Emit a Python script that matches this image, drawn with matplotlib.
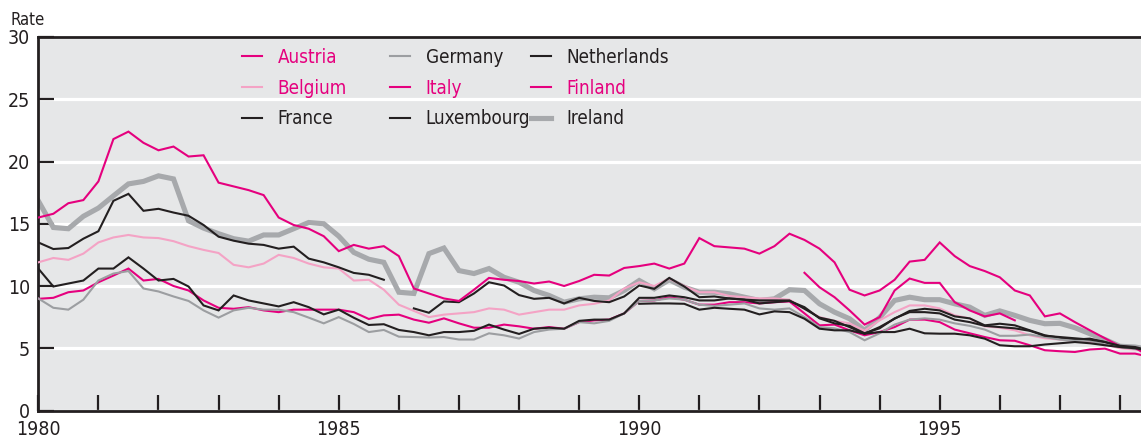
import numpy as np
import matplotlib
matplotlib.use("Agg")
import matplotlib.pyplot as plt
from matplotlib.ticker import FixedLocator

plt.rcParams['font.family'] = ['Liberation Sans Narrow', 'DejaVu Sans']
plt.rcParams['font.stretch'] = 'condensed'

nan = np.nan

# quarterly observations, 1980Q1 .. 1998Q3
quarters = 1980 + 0.25 * np.arange(75)

austria = [8.97, 9.05, 9.5, 9.64, 10.3, 10.84, 11.4, 10.44, 10.57, 10.0,
           9.64, 8.84, 8.25, 8.17, 8.3, 8.04, 7.9, 8.1, 8.1, 8.1,
           8.1, 7.9, 7.35, 7.64, 7.7, 7.3, 7.05, 7.4, 7.0, 6.65,
           6.65, 6.9, 6.76, 6.57, 6.7, 6.57, 7.1, 7.24, 7.3, 7.8,
           8.8, 8.84, 9.1, 8.9, 8.5, 8.5, 8.7, 8.7, 8.6, 8.7,
           8.76, 7.8, 6.84, 6.9, 6.44, 6.04, 6.3, 6.7, 7.3, 7.3,
           7.1, 6.5, 6.2, 5.9, 5.64, 5.6, 5.24, 4.84, 4.76, 4.7,
           4.9, 4.97, 4.57, 4.57, 4.3]

belgium = [11.9, 12.25, 12.1, 12.6, 13.5, 13.9, 14.1, 13.9, 13.85, 13.6,
           13.2, 12.9, 12.65, 11.7, 11.5, 11.8, 12.5, 12.25, 11.8, 11.5,
           11.4, 10.44, 10.5, 9.7, 8.5, 8.0, 7.5, 7.7, 7.8, 7.9,
           8.2, 8.1, 7.7, 7.9, 8.1, 8.1, 8.44, 8.57, 8.84, 9.8,
           10.3, 10.0, 10.6, 10.0, 9.5, 9.5, 9.2, 9.1, 9.0, 9.0,
           8.9, 8.2, 7.5, 7.2, 7.0, 6.4, 7.24, 7.9, 8.44, 8.44,
           8.2, 7.64, 7.4, 6.76, 6.65, 6.44, 6.04, 5.8, 5.7, 5.6,
           5.5, 5.3, 5.0, 4.9, 4.7]

france = [13.5, 12.97, 13.05, 13.8, 14.4, 16.84, 17.4, 16.04, 16.2, 15.9,
          15.64, 14.9, 13.96, 13.64, 13.4, 13.3, 13.0, 13.16, 12.2, 11.9,
          11.5, 11.05, 10.9, 10.5, nan, 8.2, 7.85, 8.76, 8.7, 9.4,
          10.3, 10.04, 9.27, 8.97, 9.05, 8.6, 9.05, 8.8, 8.7, 9.16,
          10.04, 9.77, 10.65, 9.96, 9.1, 9.16, 9.0, 8.9, 8.84, 8.84,
          8.84, 8.17, 7.46, 7.2, 6.7, 6.17, 6.7, 7.37, 8.0, 8.17,
          8.04, 7.56, 7.4, 6.84, 6.97, 6.84, 6.44, 6.04, 5.84, 5.7,
          5.77, 5.5, 5.1, 5.0, 4.8]

germany = [9.0, 8.25, 8.1, 8.9, 10.44, 11.0, 11.2, 9.8, 9.56, 9.16,
           8.8, 8.04, 7.46, 8.04, 8.25, 8.1, 8.1, 7.9, 7.46, 7.0,
           7.5, 6.95, 6.3, 6.47, 5.93, 5.9, 5.86, 5.9, 5.7, 5.7,
           6.2, 6.04, 5.78, 6.3, 6.5, 6.57, 7.1, 7.0, 7.2, 7.8,
           8.8, 8.84, 9.0, 8.9, 8.5, 8.4, 8.5, 8.6, 8.2, 8.1,
           8.2, 7.5, 6.7, 6.6, 6.3, 5.64, 6.2, 6.9, 7.3, 7.4,
           7.3, 7.0, 6.8, 6.5, 6.0, 6.0, 6.1, 5.9, 5.7, 5.6,
           5.6, 5.3, 5.1, 4.95, 4.7]

italy = [15.5, 15.8, 16.65, 16.9, 18.4, 21.8, 22.4, 21.5, 20.9, 21.2,
         20.4, 20.5, 18.3, 18.0, 17.7, 17.3, 15.5, 14.9, 14.6, 14.0,
         12.8, 13.3, 13.0, 13.2, 12.4, 9.8, 9.4, 9.0, 8.8, 9.7,
         10.65, 10.5, 10.4, 10.2, 10.36, 10.0, 10.4, 10.9, 10.84, 11.45,
         11.6, 11.8, 11.4, 11.8, 13.85, 13.2, 13.1, 13.0, 12.6, 13.2,
         14.2, 13.7, 13.0, 11.9, 9.7, 9.24, 9.64, 10.5, 11.96, 12.1,
         13.5, 12.4, 11.6, 11.2, 10.7, 9.64, 9.24, 7.56, 7.8, 7.1,
         6.44, 5.8, 5.16, 5.05, 4.3]

luxembourg = [nan] * 40 + [
    8.57, 8.6, 8.6, 8.57, 8.1, 8.25, 8.17, 8.1, 7.72, 7.96,
    7.9, 7.37, 6.57, 6.44, 6.44, 6.17, 6.3, 6.3, 6.57, 6.2,
    6.17, 6.17, 6.04, 5.77, 5.24, 5.16, 5.16, 5.3, 5.4, 5.5,
    5.4, 5.24, 5.1, 5.0, 4.8]

netherlands = [11.4, 9.96, 10.2, 10.44, 11.4, 11.4, 12.3, 11.4, 10.44, 10.57,
               9.96, 8.44, 8.04, 9.24, 8.84, 8.6, 8.36, 8.7, 8.3, 7.72,
               8.1, 7.45, 6.87, 6.93, 6.47, 6.3, 6.04, 6.3, 6.3, 6.4,
               6.9, 6.5, 6.15, 6.57, 6.65, 6.57, 7.2, 7.3, 7.3, 7.8,
               9.05, 9.05, 9.24, 9.1, 8.84, 8.84, 9.0, 8.9, 8.6, 8.7,
               8.8, 8.3, 7.4, 7.0, 6.8, 6.2, 6.6, 7.4, 7.9, 7.9,
               7.8, 7.3, 7.1, 6.8, 6.7, 6.6, 6.4, 6.0, 5.9, 5.8,
               5.7, 5.5, 5.2, 5.1, 4.8]

finland = [nan] * 51 + [11.06, 9.9, 9.1, 8.04, 6.9, 7.5, 9.64, 10.6, 10.25, 10.25,
                        8.7, 8.04, 7.56, 7.8, 7.24] + [nan] * 9

ireland = [16.84, 14.7, 14.6, 15.6, 16.26, 17.24, 18.2, 18.4, 18.85, 18.6,
           15.24, 14.65, 14.2, 13.8, 13.6, 14.1, 14.1, 14.6, 15.1, 15.0,
           14.0, 12.7, 12.15, 11.9, 9.5, 9.4, 12.6, 13.05, 11.24, 11.0,
           11.4, 10.7, 10.3, 9.64, 9.24, 8.7, 8.97, 9.1, 9.05, 9.64,
           10.44, 9.77, 10.5, 9.9, 9.5, 9.5, 9.37, 9.1, 8.84, 8.97,
           9.7, 9.64, 8.57, 7.9, 7.37, 6.44, 7.46, 8.84, 9.1, 8.9,
           8.9, 8.57, 8.3, 7.64, 8.0, 7.64, 7.24, 6.97, 7.0, 6.65,
           6.17, 5.7, 5.16, 5.1, 4.9]

MAGENTA = '#e5007e'
PINK = '#f4a3c5'
GREY = '#9c9ea1'
IRL_GREY = '#a7a9ac'
BLACK = '#231f20'

# name, data, colour, width, label colour
series = [
    ('Austria', austria, MAGENTA, 1.5, MAGENTA),
    ('Belgium', belgium, PINK, 1.5, MAGENTA),
    ('France', france, BLACK, 1.5, BLACK),
    ('Germany', germany, GREY, 1.5, BLACK),
    ('Italy', italy, MAGENTA, 1.5, MAGENTA),
    ('Luxembourg', luxembourg, BLACK, 1.5, BLACK),
    ('Netherlands', netherlands, BLACK, 1.5, BLACK),
    ('Finland', finland, MAGENTA, 1.5, MAGENTA),
    ('Ireland', ireland, IRL_GREY, 3.7, BLACK),
]

W, H = 1141, 437
fig = plt.figure(figsize=(W / 100, H / 100), dpi=100)
ax = fig.add_axes([38.3 / W, 1 - 410.5 / H, 1 - 38.3 / W, (410.5 - 37) / H])
ax.set_facecolor('#e6e7e8')

lines = {}
for name, vals, col, lw, _ in series:
    z = 2 if name == 'Ireland' else 3
    ln, = ax.plot(quarters, vals, color=col, lw=lw, zorder=z, label=name,
                  solid_joinstyle='miter')
    lines[name] = ln

ax.set_xlim(1980, 1998.35)
ax.set_ylim(0, 30)
ax.set_yticks(range(0, 31, 5))
ax.xaxis.set_major_locator(FixedLocator([1980, 1985, 1990, 1995]))
ax.xaxis.set_minor_locator(FixedLocator(range(1980, 1999)))
ax.yaxis.grid(True, color='white', lw=2.3)
ax.set_axisbelow(True)

ax.spines['right'].set_visible(False)
for s in ['left', 'bottom', 'top']:
    ax.spines[s].set_color(BLACK)
    ax.spines[s].set_linewidth(2)

ax.tick_params(axis='both', which='both', direction='in', length=11.5, width=1.6,
               color=BLACK, labelsize=14, labelcolor=BLACK)
ax.tick_params(axis='x', which='both', pad=7)
ax.tick_params(axis='y', pad=6)

fig.text(11 / W, 1 - 25 / H, 'Rate', fontsize=12, color=BLACK, va='baseline')

# legend in three columns, each placed at its own spot
names = [s[0] for s in series]
label_col = {s[0]: s[4] for s in series}
col_x = [242, 390, 531]
for i in range(3):
    group = names[i * 3:(i + 1) * 3]
    leg = fig.legend([lines[n] for n in group], group, loc='upper left',
                     bbox_to_anchor=(col_x[i] / W, 1 - 48 / H),
                     frameon=False, fontsize=13.5, borderpad=0, borderaxespad=0,
                     handlelength=1.05, handletextpad=0.85, labelspacing=0.62)
    for t, n in zip(leg.get_texts(), group):
        t.set_color(label_col[n])

fig.savefig('out.png', dpi=100)
